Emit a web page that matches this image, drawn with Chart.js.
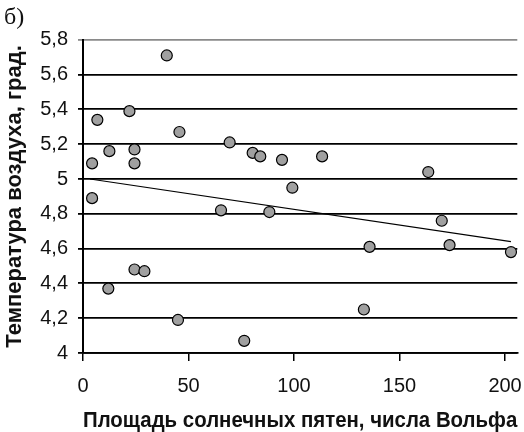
<!DOCTYPE html>
<html>
<head>
<meta charset="utf-8">
<script src="https://cdn.jsdelivr.net/npm/chart.js@4/dist/chart.umd.min.js"></script>
<style>
    body { margin: 0; background: #fff; }
    #grafico_box { width: 524px; height: 432px; }
</style>
</head>
<body>
<div id="grafico_box"><canvas id="grafico_temperatura"></canvas></div>
<script>
    // площадь пятен (числа Вольфа) и температура воздуха
    const numeros_wolf = [4.3, 4.3, 6.8, 12.5, 12.0, 22.0, 24.4, 24.4, 24.4, 29.1, 39.7, 45.7, 45.0, 65.4,
        69.5, 76.4, 80.4, 84.0, 88.3, 94.3, 99.2, 113.3, 133.1, 135.8, 163.6, 170.0, 173.7, 202.8];
    const temperaturas = [5.09, 4.89, 5.34, 5.16, 4.37, 5.39, 5.17, 5.09, 4.48, 4.47, 5.71, 5.27, 4.19, 4.82,
        5.21, 4.07, 5.15, 5.13, 4.81, 5.11, 4.95, 5.13, 4.25, 4.61, 5.04, 4.76, 4.62, 4.58];

    // линия тренда, концы
    const tendencia_x = [3.3, 202.8];
    const tendencia_y = [5.0, 4.64];

    const ticks_x = [0, 50, 100, 150, 200];
    const ticks_y = [4, 4.2, 4.4, 4.6, 4.8, 5, 5.2, 5.4, 5.6, 5.8];
    const rotulos_y = ['4', '4,2', '4,4', '4,6', '4,8', '5', '5,2', '5,4', '5,6', '5,8'];

    const pontos = numeros_wolf.map((x, i) => ({x: x, y: temperaturas[i]}));
    const tendencia = tendencia_x.map((x, i) => ({x: x, y: tendencia_y[i]}));

    const ctx_temp = document.getElementById('grafico_temperatura');

    new Chart(ctx_temp, {
        type: 'scatter',
        data: {
            datasets: [{
                type: 'line',
                data: tendencia,
                borderColor: '#000',
                borderWidth: 1.2,
                pointRadius: 0,
                fill: false,
                order: 2
            }, {
                data: pontos,
                backgroundColor: '#a0a0a0',
                borderColor: '#000',
                borderWidth: 1.2,
                pointRadius: 5.5,
                order: 1
            }]
        },
        options: {
            responsive: true,
            maintainAspectRatio: false,
            animation: false,
            layout: {
                padding: {left: 4, right: 0, top: 0, bottom: 0}
            },
            plugins: {
                legend: { display: false },
                tooltip: { enabled: false },
                title: {
                    display: true,
                    text: 'б)',
                    align: 'start',
                    color: '#111',
                    font: { family: 'Liberation Serif', size: 24, weight: 'normal', lineHeight: 1.2 },
                    padding: { top: 3, bottom: 8 }
                }
            },
            scales: {
                x: {
                    type: 'linear',
                    min: 0,
                    max: 205.8,
                    afterFit: function (scale) {
                        scale.height = 79;
                        // область графика до правого края
                        scale.paddingLeft = 0;
                        scale.paddingRight = 0;
                    },
                    afterBuildTicks: function (scale) {
                        scale.ticks = ticks_x.map(v => ({value: v}));
                    },
                    border: { display: true, color: '#000', width: 1.8 },
                    grid: {
                        drawOnChartArea: false,
                        drawTicks: true,
                        tickLength: 8,
                        color: '#000',
                        lineWidth: 1.5
                    },
                    ticks: {
                        padding: 13,
                        color: '#111',
                        maxRotation: 0,
                        font: { family: 'Liberation Sans', size: 20 }
                    },
                    title: {
                        display: true,
                        text: 'Площадь солнечных пятен, числа Вольфа',
                        color: '#111',
                        font: { family: 'Liberation Sans', size: 22, weight: 'bold', lineHeight: 1 },
                        padding: { top: 0, bottom: 0 }
                    }
                },
                y: {
                    type: 'linear',
                    min: 4,
                    max: 5.8,
                    afterFit: function (scale) { scale.width = 79; },
                    afterBuildTicks: function (scale) {
                        scale.ticks = ticks_y.map(v => ({value: v}));
                    },
                    border: { display: true, color: '#000', width: 2 },
                    grid: {
                        drawTicks: true,
                        tickLength: 5,
                        color: function (c) {
                            return c.tick && c.tick.value === 5.8 ? '#8a8a8a' : '#000';
                        },
                        lineWidth: 1.8
                    },
                    ticks: {
                        padding: 10,
                        color: '#111',
                        font: { family: 'Liberation Sans', size: 20 },
                        callback: function (value, index) {
                            return rotulos_y[index];
                        }
                    },
                    title: {
                        display: true,
                        text: 'Температура воздуха, град.',
                        color: '#111',
                        font: { family: 'Liberation Sans', size: 22, weight: 'bold', lineHeight: 1 },
                        padding: { top: 0, bottom: 0 }
                    }
                }
            }
        }
    });
</script>
</body>
</html>
